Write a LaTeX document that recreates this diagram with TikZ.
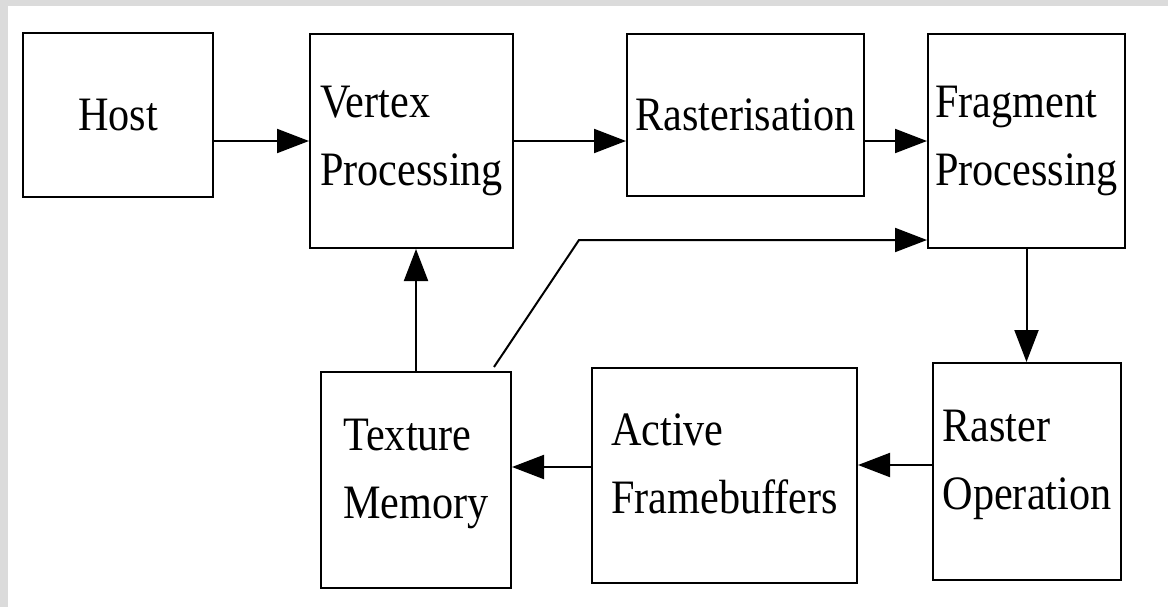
\documentclass[tikz,border=0pt]{standalone}
\usepackage{fontspec}
\setmainfont[FakeStretch=0.88]{Liberation Serif}
\usetikzlibrary{arrows.meta}

\definecolor{framegrey}{gray}{0.86}

\tikzset{
    stage/.style={draw, line width=0.4mm, align=left, inner sep=0pt,
        font=\fontsize{27.3}{38.7}\selectfont},
    lowstage/.style={stage, text depth=13pt},
    flow/.style={line width=0.4mm, -{Triangle[length=0.64cm, width=0.48cm]}}
}

\begin{document}
\begin{tikzpicture}
            % grey frame round the page
            \fill[framegrey] (0,0) rectangle (23.36,12.14);
            \fill[white] (0.16,0) rectangle (23.36,12.02);
            \useasboundingbox (0,0) rectangle (23.36,12.14);

            % upper row
            \node[stage, minimum width=3.8cm, minimum height=3.28cm] (host) at (2.36,9.84) {Host};
            \node[stage, minimum width=4.06cm, minimum height=4.28cm] (vertex) at (8.23,9.32) {Vertex\\Processing};
            \node[stage, minimum width=4.74cm, minimum height=3.24cm] (raster) at (14.91,9.84) {Rasterisation};
            \node[stage, minimum width=3.94cm, minimum height=4.28cm] (fragment) at (20.53,9.32) {Fragment\\Processing};

            % lower row
            \node[lowstage, minimum width=3.76cm, minimum height=4.34cm] (rop) at (20.54,2.71) {Raster\\Operation};
            \node[lowstage, minimum width=5.3cm, minimum height=4.3cm] (active) at (14.49,2.63) {Active\\Framebuffers};
            \node[lowstage, minimum width=3.8cm, minimum height=4.32cm] (texture) at (8.32,2.54) {Texture\\Memory};

            \coordinate (bend) at (11.58,7.34);

            \draw[flow] (host.east |- vertex.west) -- (vertex.west);
            \draw[flow] (vertex.east) -- (vertex.east -| raster.west);
            \draw[flow] (raster.east |- fragment.west) -- (fragment.west);
            \draw[flow] (fragment.south) -- (fragment.south |- rop.north);
            \draw[flow] ([yshift=0.13cm]rop.west) -- ([yshift=0.13cm]rop.west -| active.east);
            \draw[flow] ([yshift=0.17cm]active.west) -- ([yshift=0.17cm]active.west -| texture.east);
            \draw[flow] (texture.north) -- (texture.north |- vertex.south);
            \draw[flow] ([xshift=-0.36cm,yshift=0.08cm]texture.north east) -- (bend) -- (bend -| fragment.west);
\end{tikzpicture}
\end{document}
